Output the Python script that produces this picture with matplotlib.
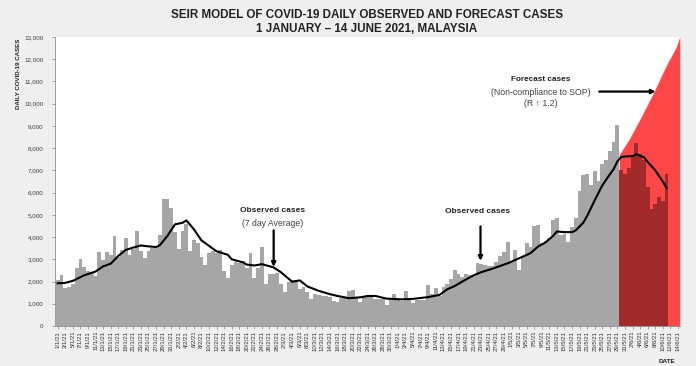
import matplotlib
matplotlib.use('Agg')
import matplotlib.pyplot as plt
import pandas as pd

# ---- data ----
dates = pd.date_range('2021-01-01', '2021-06-14', freq='D')
tick_labels = [f'{d.day}/{d.month}/21' for d in dates[::2]]

# daily observed cases, 1 Jan - 29 May (grey bars)
observed = [
    # Jan
    2068, 2295, 1704, 1741, 1870, 2593, 3027, 2643, 2451, 2433, 2232, 3309, 2985, 3337, 3211, 4029,
    3110, 3410, 3960, 3170, 3480, 4250, 3350, 3050, 3350, 3500, 3600, 4070, 5725, 5728, 5298,
    # Feb
    4214, 3455, 4284, 4571, 3391, 3847, 3731, 3100, 2764, 3288, 3384, 3300, 3430, 2464, 2176, 2720,
    2880, 2850, 2930, 2600, 3290, 2140, 2600, 3545, 1910, 2360, 2360, 2400,
    # Mar
    1900, 1540, 1990, 2080, 2070, 1650, 1760, 1520, 1230, 1440, 1410, 1350, 1360, 1320, 1130, 1060,
    1250, 1270, 1580, 1610, 1240, 1070, 1320, 1350, 1390, 1200, 1200, 1200, 940, 1200, 1430,
    # Apr
    1170, 1140, 1580, 1200, 1020, 1170, 1170, 1170, 1840, 1460, 1710, 1350, 1760, 1900, 2100, 2530,
    2320, 2200, 2320, 2310, 2250, 2830, 2800, 2720, 2680, 2710, 2880, 3142, 3332, 3788,
    # May
    2881, 3418, 2500, 3120, 3744, 3551, 4498, 4519, 3733, 3807, 3973, 4765, 4855, 4113, 4140, 3780,
    4446, 4865, 6075, 6806, 6823, 6320, 6976, 6509, 7289, 7478, 7857, 8290, 9020,
]

# observed cases inside the forecast window, 30 May - 11 Jun (dark red bars)
recent = [6999, 6824, 7105, 7703, 8209, 7748, 7452, 6241, 5271, 5500, 5800, 5600, 6849]

# 7 day average line (day index, cases)
avg_days = [0, 2, 4, 7, 10, 12, 14, 16, 18, 20, 22, 24, 26, 27, 29, 31, 33, 34, 36, 38, 41, 42,
            45, 46, 49, 50, 52, 54, 57, 59, 62, 64, 66, 69, 72, 74, 77, 80, 82, 84, 87, 91, 94,
            98, 101, 103, 105, 107, 110, 112, 115, 119, 123, 125, 127, 129, 131, 132, 134, 136,
            137, 139, 140, 142, 144, 146, 147, 148, 149, 150, 152, 153, 155, 156, 158, 160, 161]
avg_vals = [1920, 1940, 2030, 2280, 2450, 2680, 2800, 3150, 3420, 3530, 3620, 3580, 3550, 3630,
            4050, 4570, 4640, 4750, 4350, 3850, 3480, 3360, 3200, 3000, 2860, 2760, 2720, 2780,
            2640, 2420, 1990, 2050, 1780, 1580, 1430, 1350, 1250, 1290, 1350, 1350, 1230, 1200,
            1220, 1300, 1400, 1650, 1800, 2000, 2280, 2420, 2580, 2820, 3120, 3270, 3570, 3760,
            4050, 4250, 4220, 4220, 4300, 4650, 4950, 5650, 6320, 6820, 7050, 7400, 7600, 7620,
            7640, 7720, 7590, 7380, 7000, 6500, 6200]

# SEIR forecast (non-compliance, R 1.2)
fc_days = [148.5, 151.2, 153.8, 157.4, 160.9, 163.5, 164.5]
fc_vals = [7700, 8420, 9240, 10430, 11700, 12520, 13000]

BG = '#efefef'
SANS = ['Liberation Sans', 'DejaVu Sans']
DARK = '#222222'

fig = plt.figure(figsize=(6.96, 3.66), dpi=100, facecolor=BG)
ax = fig.add_axes([0.0797, 0.1093, 0.897, 0.79])
ax.set_facecolor('white')

ax.fill_between(fc_days, 0, fc_vals, color='#ff4747', lw=0, zorder=1)
ax.bar(range(len(observed)), observed, width=1.0, color='#a6a6a6', lw=0, zorder=2)
ax.bar(range(len(observed), len(observed) + len(recent)), recent, width=1.0,
       color='#a22a2b', lw=0, zorder=2)
ax.plot(avg_days, avg_vals, color='black', lw=1.5, zorder=3, solid_joinstyle='round')

ax.set_xlim(-0.6, 164.5)
ax.set_ylim(0, 13000)

ax.set_xticks(range(0, len(dates), 2))
ax.set_xticklabels(tick_labels, rotation=90, fontsize=4.3, family=SANS, color='#333333')
ax.set_yticks(range(0, 13001, 1000))
ax.set_yticklabels([f'{v:,}' for v in range(0, 13001, 1000)], fontsize=4.5, family=SANS,
                   color='#404040')
ax.tick_params(axis='x', length=2, width=0.5, pad=1.5, color='#808080')
ax.tick_params(axis='y', length=2.5, width=0.5, pad=6, color='#808080')
for side in ['top', 'right']:
    ax.spines[side].set_visible(False)
for side in ['left', 'bottom']:
    ax.spines[side].set_color('#8c8c8c')
    ax.spines[side].set_linewidth(0.6)

# titles and axis labels
fig.text(0.527, 0.958, 'SEIR MODEL OF COVID-19 DAILY OBSERVED AND FORECAST CASES',
         ha='center', va='center', fontsize=8.4, fontweight='bold', family=SANS, color=DARK)
fig.text(0.527, 0.921, '1 JANUARY \u2013 14 JUNE 2021, MALAYSIA',
         ha='center', va='center', fontsize=8.4, fontweight='bold', family=SANS, color=DARK)
fig.text(0.026, 0.895, 'DAILY COVID-19 CASES', rotation=90, ha='center', va='top',
         fontsize=4.4, fontweight='bold', family=SANS, color=DARK)
fig.text(0.958, 0.018, 'DATE', ha='center', va='top', fontsize=4.6, fontweight='bold',
         family=SANS, color=DARK)

# annotations
arrow = dict(arrowstyle='-|>', color='black', lw=1.6, mutation_scale=6, shrinkA=0, shrinkB=0)
ax.text(56.7, 5200, 'Observed cases', ha='center', va='center', fontsize=6.0,
        fontweight='bold', family=SANS, color=DARK)
ax.text(56.7, 4630, '(7 day Average)', ha='center', va='center', fontsize=6.2,
        family=SANS, color='#404040')
ax.annotate('', xy=(57.1, 2660), xytext=(57.1, 4300), arrowprops=arrow)

ax.text(110.9, 5130, 'Observed cases', ha='center', va='center', fontsize=6.0,
        fontweight='bold', family=SANS, color=DARK)
ax.annotate('', xy=(111.8, 2930), xytext=(111.8, 4480), arrowprops=arrow)

ax.text(127.8, 11080, 'Forecast cases', ha='center', va='center', fontsize=5.9,
        fontweight='bold', family=SANS, color=DARK)
ax.text(127.8, 10500, '(Non-compliance to SOP)', ha='center', va='center', fontsize=6.3,
        family=SANS, color='#404040')
ax.text(127.8, 10010, '(R \u2191 1.2)', ha='center', va='center', fontsize=6.3,
        family=SANS, color='#404040')
ax.annotate('', xy=(158.1, 10540), xytext=(143.2, 10540), arrowprops=arrow)

fig.savefig('out.png', dpi=100, facecolor=BG)
